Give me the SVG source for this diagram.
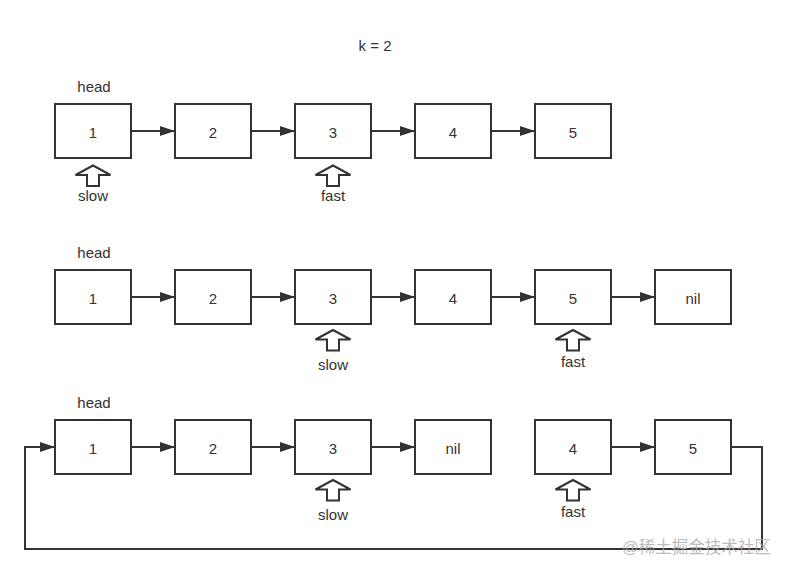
<svg xmlns="http://www.w3.org/2000/svg" xmlns:xlink="http://www.w3.org/1999/xlink" width="786" height="573" viewBox="0 0 786 573">
<style>
.box{fill:#fff;stroke:#333;stroke-width:2}
.t{font-family:"Liberation Sans",Arial,sans-serif;font-size:15px;fill:#333;text-anchor:middle}
.edge{fill:none;stroke:#333;stroke-width:2}
.ptr{fill:#fff;stroke:#333;stroke-width:2;stroke-linejoin:miter}
.wm{font-family:"Liberation Sans","Noto Sans CJK SC",sans-serif;font-size:16.5px;fill:#aaa;fill-opacity:0.8}
</style>
<defs>
<marker id="ah" markerUnits="userSpaceOnUse" markerWidth="16" markerHeight="12" refX="15" refY="5" orient="auto">
<path d="M0,0 L15,5 L0,10 Z" fill="#333"/>
</marker>
<path id="up" d="M0,0 L17.5,9.5 L6,9.5 L6,20.5 L-6,20.5 L-6,9.5 L-17.5,9.5 Z"/>
</defs>
<rect width="786" height="573" fill="#fff"/>
<text class="t" x="375" y="51">k = 2</text>

<g id="connectors">
<line class="edge" x1="131" y1="131" x2="175" y2="131" marker-end="url(#ah)"/>
<line class="edge" x1="251" y1="131" x2="295" y2="131" marker-end="url(#ah)"/>
<line class="edge" x1="371" y1="131" x2="415" y2="131" marker-end="url(#ah)"/>
<line class="edge" x1="491" y1="131" x2="535" y2="131" marker-end="url(#ah)"/>
<line class="edge" x1="131" y1="297" x2="175" y2="297" marker-end="url(#ah)"/>
<line class="edge" x1="251" y1="297" x2="295" y2="297" marker-end="url(#ah)"/>
<line class="edge" x1="371" y1="297" x2="415" y2="297" marker-end="url(#ah)"/>
<line class="edge" x1="491" y1="297" x2="535" y2="297" marker-end="url(#ah)"/>
<line class="edge" x1="611" y1="297" x2="655" y2="297" marker-end="url(#ah)"/>
<line class="edge" x1="131" y1="447" x2="175" y2="447" marker-end="url(#ah)"/>
<line class="edge" x1="251" y1="447" x2="295" y2="447" marker-end="url(#ah)"/>
<line class="edge" x1="371" y1="447" x2="415" y2="447" marker-end="url(#ah)"/>
<line class="edge" x1="611" y1="447" x2="655" y2="447" marker-end="url(#ah)"/>
<polyline class="edge" points="731,447 762,447 762,549 25,549 25,447 55,447" marker-end="url(#ah)"/>
</g>

<g id="row1">
<text class="t" x="94" y="92">head</text>
<g id="r1n1"><rect class="box" x="55" y="104" width="76" height="54"/><text class="t" x="93" y="138">1</text></g>
<g id="r1n2"><rect class="box" x="175" y="104" width="76" height="54"/><text class="t" x="213" y="138">2</text></g>
<g id="r1n3"><rect class="box" x="295" y="104" width="76" height="54"/><text class="t" x="333" y="138">3</text></g>
<g id="r1n4"><rect class="box" x="415" y="104" width="76" height="54"/><text class="t" x="453" y="138">4</text></g>
<g id="r1n5"><rect class="box" x="535" y="104" width="76" height="54"/><text class="t" x="573" y="138">5</text></g>
<g id="r1slow"><use xlink:href="#up" class="ptr" x="93" y="165.5"/><text class="t" x="93" y="201">slow</text></g>
<g id="r1fast"><use xlink:href="#up" class="ptr" x="333" y="165.5"/><text class="t" x="333" y="201">fast</text></g>
</g>

<g id="row2">
<text class="t" x="94" y="258">head</text>
<g id="r2n1"><rect class="box" x="55" y="270" width="76" height="54"/><text class="t" x="93" y="304">1</text></g>
<g id="r2n2"><rect class="box" x="175" y="270" width="76" height="54"/><text class="t" x="213" y="304">2</text></g>
<g id="r2n3"><rect class="box" x="295" y="270" width="76" height="54"/><text class="t" x="333" y="304">3</text></g>
<g id="r2n4"><rect class="box" x="415" y="270" width="76" height="54"/><text class="t" x="453" y="304">4</text></g>
<g id="r2n5"><rect class="box" x="535" y="270" width="76" height="54"/><text class="t" x="573" y="304">5</text></g>
<g id="r2nil"><rect class="box" x="655" y="270" width="76" height="54"/><text class="t" x="693" y="304">nil</text></g>
<g id="r2slow"><use xlink:href="#up" class="ptr" x="333" y="330"/><text class="t" x="333" y="370">slow</text></g>
<g id="r2fast"><use xlink:href="#up" class="ptr" x="573" y="330"/><text class="t" x="573" y="367">fast</text></g>
</g>

<g id="row3">
<text class="t" x="94" y="408">head</text>
<g id="r3n1"><rect class="box" x="55" y="420" width="76" height="54"/><text class="t" x="93" y="454">1</text></g>
<g id="r3n2"><rect class="box" x="175" y="420" width="76" height="54"/><text class="t" x="213" y="454">2</text></g>
<g id="r3n3"><rect class="box" x="295" y="420" width="76" height="54"/><text class="t" x="333" y="454">3</text></g>
<g id="r3nil"><rect class="box" x="415" y="420" width="76" height="54"/><text class="t" x="453" y="454">nil</text></g>
<g id="r3n4"><rect class="box" x="535" y="420" width="76" height="54"/><text class="t" x="573" y="454">4</text></g>
<g id="r3n5"><rect class="box" x="655" y="420" width="76" height="54"/><text class="t" x="693" y="454">5</text></g>
<g id="r3slow"><use xlink:href="#up" class="ptr" x="333" y="480"/><text class="t" x="333" y="520">slow</text></g>
<g id="r3fast"><use xlink:href="#up" class="ptr" x="573" y="480"/><text class="t" x="573" y="517">fast</text></g>
</g>

<text class="wm" x="622" y="553">@稀土掘金技术社区</text>
</svg>
